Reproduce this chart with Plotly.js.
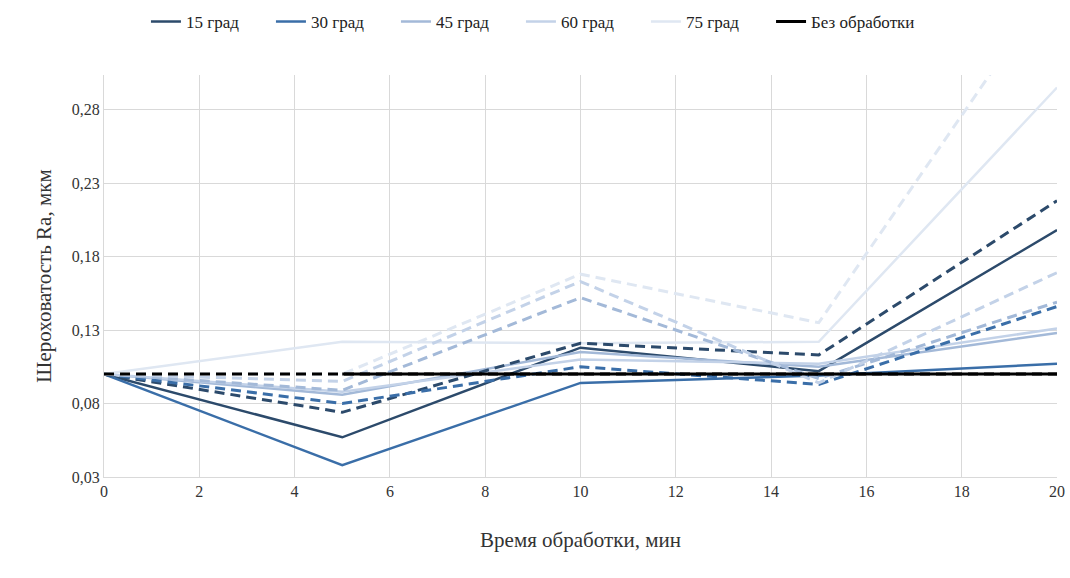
<!DOCTYPE html>
<html>
<head>
<meta charset="utf-8">
<script src="https://cdn.plot.ly/plotly-3.0.1.min.js"></script>
<style>html,body{margin:0;padding:0;background:#fff;}#chart{width:1070px;height:578px;}</style>
</head>
<body>
<div id="chart"></div>
<script>
// Время обработки, мин
const timeMin = [0, 5, 10, 15, 20];

// Measured series (solid)
const s15 = [0.100, 0.057, 0.118, 0.102, 0.198];
const s30 = [0.100, 0.038, 0.094, 0.099, 0.107];
const s45 = [0.100, 0.086, 0.115, 0.105, 0.128];
const s60 = [0.100, 0.088, 0.110, 0.107, 0.131];
const s75 = [0.100, 0.122, 0.121, 0.122, 0.295];

// Companion series (dashed, not in legend)
const d15 = [0.100, 0.074, 0.121, 0.113, 0.218];
const d30 = [0.100, 0.080, 0.105, 0.093, 0.146];
const d45 = [0.100, 0.089, 0.152, 0.097, 0.149];
const d60 = [0.100, 0.095, 0.163, 0.094, 0.169];
const d75 = [0.100, 0.100, 0.168, 0.135, 0.370];

// Без обработки
const base = [null, 0.100, 0.100, 0.100, 0.100];
const baseDash = [0.100, 0.100, 0.100, 0.100, 0.100];

const names = ['15 град', '30 град', '45 град', '60 град', '75 град'];
const yTicks = [0.03, 0.08, 0.13, 0.18, 0.23, 0.28];
const xTicks = [0, 2, 4, 6, 8, 10, 12, 14, 16, 18, 20];

const colors = ['#2c4a6b', '#3a6ea8', '#a3b9d8', '#c3d2e8', '#dfe7f2'];
const solids = [s15, s30, s45, s60, s75];
const dashes = [d15, d30, d45, d60, d75];

const traces = [];
solids.forEach((v, i) => traces.push({
  x: timeMin, y: v, type: 'scatter', mode: 'lines', name: names[i],
  line: {color: colors[i], width: 2.5}
}));
dashes.forEach((v, i) => traces.push({
  x: timeMin, y: v, type: 'scatter', mode: 'lines', showlegend: false,
  line: {color: colors[i], width: 3, dash: '10px,6px'}
}));
traces.push({x: timeMin, y: baseDash, type: 'scatter', mode: 'lines', showlegend: false,
  line: {color: '#000000', width: 3, dash: '10px,6px'}});
traces.push({x: timeMin, y: base, type: 'scatter', mode: 'lines', name: 'Без обработки',
  legend: 'legend2', line: {color: '#000000', width: 3}});

const font = 'Liberation Serif, Times New Roman, serif';
const legendFont = {family: font, size: 17, color: '#222222'};
const layout = {
  width: 1070, height: 578,
  margin: {l: 104, r: 13, t: 75, b: 101},
  paper_bgcolor: '#ffffff', plot_bgcolor: '#ffffff',
  font: {family: font, color: '#333333', size: 16},
  separators: ', ',
  showlegend: true,
  legend: {orientation: 'h', xref: 'container', yref: 'container', x: 0.1364, xanchor: 'left',
    y: 0.962, yanchor: 'middle', entrywidth: 80,
    font: legendFont, itemwidth: 30, traceorder: 'normal'},
  legend2: {orientation: 'h', xref: 'container', yref: 'container', x: 0.7206, xanchor: 'left',
    y: 0.962, yanchor: 'middle',
    font: legendFont, itemwidth: 30},
  xaxis: {
    range: [0, 20], tickvals: xTicks, ticktext: xTicks.map(String),
    showgrid: true, gridcolor: '#d9d9d9', gridwidth: 1,
    zeroline: false, showline: true, linecolor: '#d9d9d9', linewidth: 1,
    ticks: '', tickfont: {family: font, size: 16, color: '#333333'},
    title: {text: 'Время обработки, мин', font: {family: font, size: 21, color: '#333333'}, standoff: 33}
  },
  yaxis: {
    range: [0.03, 0.3035], tickvals: yTicks, tickformat: '.2f',
    showgrid: true, gridcolor: '#d9d9d9', gridwidth: 1,
    zeroline: false, showline: true, linecolor: '#d9d9d9', linewidth: 1,
    ticks: '', ticklen: 0, tickfont: {family: font, size: 16, color: '#333333'},
    title: {text: 'Шероховатость Ra, мкм', font: {family: font, size: 21, color: '#333333'}, standoff: 14}
  }
};
Plotly.newPlot('chart', traces, layout, {displayModeBar: false, staticPlot: true});
</script>
</body>
</html>
